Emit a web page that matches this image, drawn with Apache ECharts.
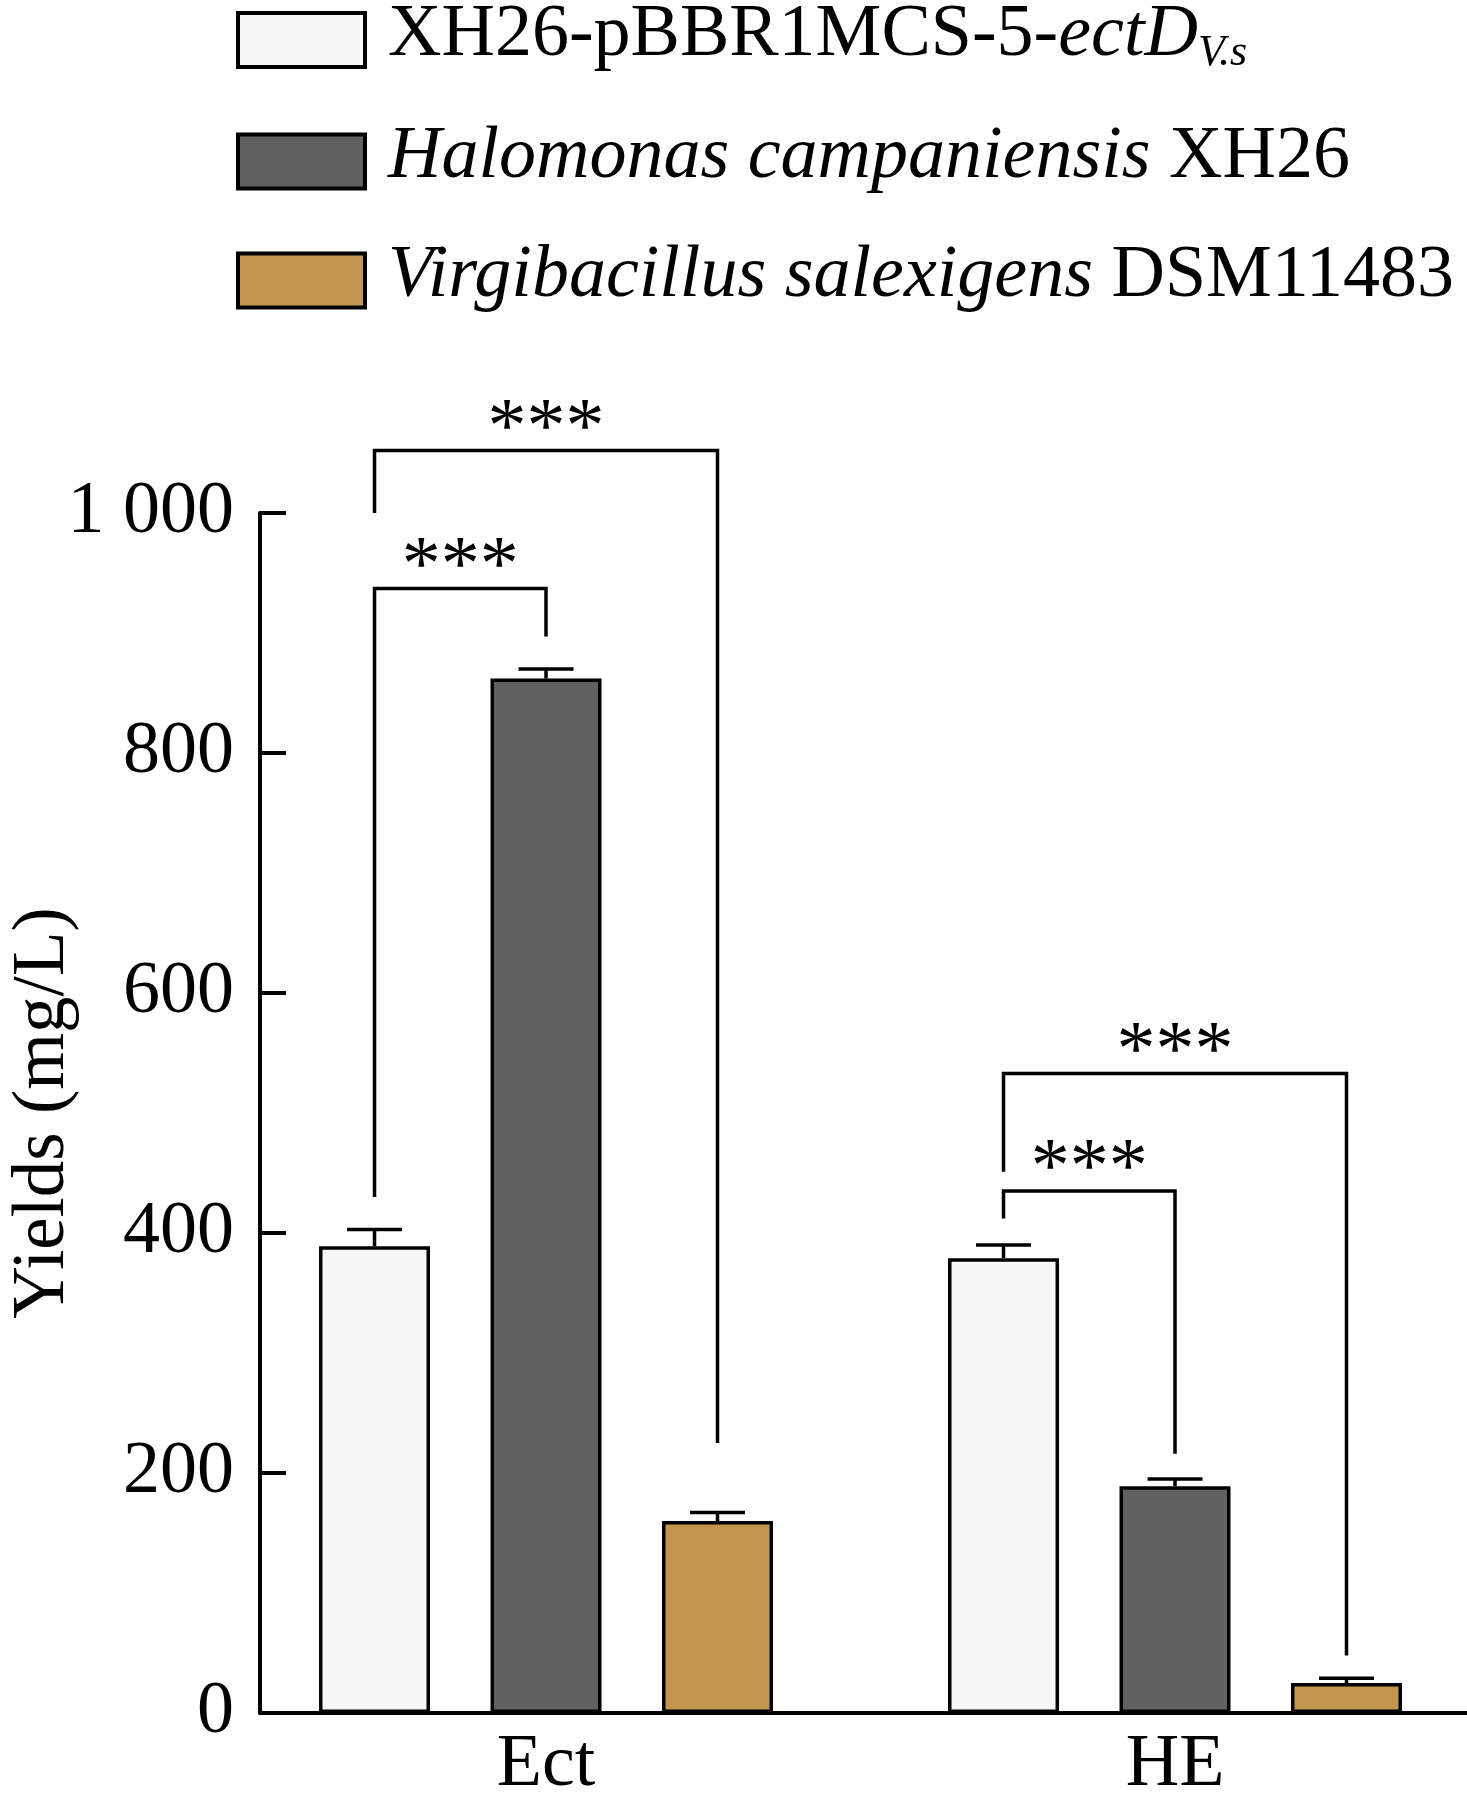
<!DOCTYPE html>
<html>
<head>
<meta charset="utf-8">
<title>Yields</title>
<script src="https://cdn.jsdelivr.net/npm/echarts@6/dist/echarts.min.js"></script>
<style>
  html, body { margin: 0; padding: 0; background: #fff; }
  #mainBox { width: 1467px; height: 1814px; }
</style>
</head>
<body>
<div id="mainBox"></div>
<script>
// data
var categories = ['Ect', 'HE'];
var seriesNames = ['XH26-pBBR1MCS-5-ectD', 'Halomonas campaniensis XH26', 'Virgibacillus salexigens DSM11483'];
var plasmidYield = [389, 379];
var plasmidErr = [14, 11];
var xh26Yield = [862, 189];
var xh26Err = [8, 6];
var dsmYield = [160, 25];
var dsmErr = [7, 4];
var yTickLabels = ['0', '200', '400', '600', '800', '1 000'];

// significance brackets: category, from bar slot, to bar slot, top, leg ends
var sigCategory = [0, 0, 1, 1];
var sigFrom = [0, 0, 0, 0];
var sigTo = [1, 2, 1, 2];
var sigTop = [937, 1052, 435, 533];
var sigLeftEnd = [430, 1000, 412, 451];
var sigRightEnd = [897, 225, 216, 48];
var sigText = ['***', '***', '***', '***'];

var FONT = '"Liberation Serif", "Times New Roman", serif';
var BAR_W = 111;
var GAP_RATIO = 0.545;
var colors = ['#f7f7f7', '#616161', '#c4954e'];

var myChart = echarts.init(document.getElementById('mainBox'));

function slotX(api, cat, slot) {
    var c = api.coord([cat + 1, 0])[0];
    return c + (slot - 1) * BAR_W * (1 + GAP_RATIO);
}

// error bar items: [category, value, error, slot]
var errData = [];
[plasmidYield, xh26Yield, dsmYield].forEach(function (arr, s) {
    var errs = [plasmidErr, xh26Err, dsmErr][s];
    arr.forEach(function (v, i) { errData.push([i + 1, v, errs[i], s]); });
});

var sigData = sigCategory.map(function (c, i) {
    return [c + 1, sigTop[i], sigFrom[i], sigTo[i], sigLeftEnd[i], sigRightEnd[i], i];
});

var legendText = [
    '{n|XH26-pBBR1MCS-5-}{i|ectD}{sub|V.s}',
    '{i|Halomonas campaniensis}{n| XH26}',
    '{i|Virgibacillus salexigens}{n| DSM11483}'
];

function barSeries(idx, arr) {
    return {
        name: seriesNames[idx],
        type: 'bar',
        barWidth: BAR_W,
        barGap: (GAP_RATIO * 100) + '%',
        itemStyle: { color: colors[idx], borderColor: '#000', borderWidth: 3.5 },
        data: arr.map(function (v, i) { return [i + 1, v]; }),
        z: 2
    };
}

var option = {
    animation: false,
    backgroundColor: '#fff',
    textStyle: { fontFamily: FONT },
    grid: { left: 260, right: 0, top: 513, bottom: 101, containLabel: false, outerBoundsMode: 'none' },
    legend: {
        orient: 'vertical',
        left: 236,
        top: -1,
        padding: 0,
        itemWidth: 127,
        itemHeight: 54,
        itemGap: 45,
        selectedMode: false,
        icon: 'rect',
        itemStyle: { borderColor: '#000', borderWidth: 4 },
        data: seriesNames,
        formatter: function (name) {
            return legendText[seriesNames.indexOf(name)];
        },
        textStyle: {
            fontFamily: FONT,
            fontSize: 74,
            color: '#000',
            rich: {
                n: { fontFamily: FONT, fontSize: 74, color: '#000', padding: [0, 0, 8, 0] },
                i: { fontFamily: FONT, fontSize: 74, fontStyle: 'italic', color: '#000', padding: [0, 0, 8, 0] },
                sub: { fontFamily: FONT, fontSize: 44, fontStyle: 'italic', color: '#000', padding: [27, 0, 0, 0] }
            },
            padding: [0, 0, 0, 18]
        }
    },
    xAxis: {
        type: 'value',
        min: 0.5453,
        max: 2.4642,
        splitLine: { show: false },
        axisLine: { show: true, onZero: false, lineStyle: { color: '#000', width: 4 } },
        axisTick: { show: false },
        axisLabel: {
            customValues: [1, 2],
            formatter: function (v) { return categories[Math.round(v) - 1]; },
            fontFamily: FONT,
            fontSize: 74,
            color: '#000',
            margin: 16
        }
    },
    yAxis: {
        type: 'value',
        min: 0,
        max: 1000,
        interval: 200,
        name: 'Yields (mg/L)',
        nameLocation: 'middle',
        nameGap: 180,
        nameMoveOverlap: false,
        nameRotate: 90,
        nameTextStyle: { fontFamily: FONT, fontSize: 73, color: '#000' },
        splitLine: { show: false },
        axisLine: { show: true, lineStyle: { color: '#000', width: 4 } },
        axisTick: { show: true, inside: true, length: 26, lineStyle: { color: '#000', width: 4 } },
        axisLabel: {
            formatter: function (v) { return yTickLabels[Math.round(v / 200)]; },
            fontFamily: FONT,
            fontSize: 74,
            color: '#000',
            margin: 26
        }
    },
    series: [
        barSeries(0, plasmidYield),
        barSeries(1, xh26Yield),
        barSeries(2, dsmYield),
        {
            type: 'custom',
            name: 'err',
            clip: false,
            z: 5,
            encode: { x: 0, y: 1 },
            data: errData,
            renderItem: function (params, api) {
                var cat = api.value(0) - 1;
                var v = api.value(1);
                var e = api.value(2);
                var s = api.value(3);
                var x = slotX(api, cat, s);
                var y0 = api.coord([cat + 1, v])[1];
                var y1 = api.coord([cat + 1, v + e])[1];
                var st = { stroke: '#000', lineWidth: 3.5, fill: null };
                return {
                    type: 'group',
                    children: [
                        { type: 'line', shape: { x1: x, y1: y0, x2: x, y2: y1 }, style: st },
                        { type: 'line', shape: { x1: x - 27.5, y1: y1, x2: x + 27.5, y2: y1 }, style: st }
                    ]
                };
            }
        },
        {
            type: 'custom',
            name: 'sig',
            clip: false,
            z: 5,
            encode: { x: 0, y: 1 },
            data: sigData,
            renderItem: function (params, api) {
                var cat = api.value(0) - 1;
                var top = api.value(1);
                var xa = slotX(api, cat, api.value(2));
                var xb = slotX(api, cat, api.value(3));
                var yt = api.coord([cat + 1, top])[1];
                var ya = api.coord([cat + 1, api.value(4)])[1];
                var yb = api.coord([cat + 1, api.value(5)])[1];
                return {
                    type: 'group',
                    children: [
                        {
                            type: 'polyline',
                            shape: { points: [[xa, ya], [xa, yt], [xb, yt], [xb, yb]] },
                            style: { stroke: '#000', lineWidth: 3.5, fill: null }
                        },
                        {
                            type: 'text',
                            style: {
                                text: sigText[api.value(6)],
                                x: (xa + xb) / 2,
                                y: yt - 20,
                                align: 'center',
                                verticalAlign: 'middle',
                                fontFamily: FONT,
                                fontSize: 78,
                                fill: '#000'
                            }
                        }
                    ]
                };
            }
        }
    ]
};

myChart.setOption(option);
</script>
</body>
</html>
